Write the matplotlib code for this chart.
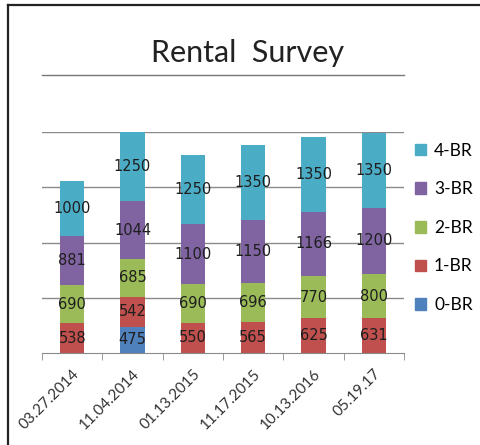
import matplotlib.pyplot as plt
import numpy as np
from matplotlib.lines import Line2D
from matplotlib.patches import Patch

dates = ['03.27.2014', '11.04.2014', '01.13.2015', '11.17.2015', '10.13.2016', '05.19.17']
br0 = [0, 475, 0, 0, 0, 0]
br1 = [538, 542, 550, 565, 625, 631]
br2 = [690, 685, 690, 696, 770, 800]
br3 = [881, 1044, 1100, 1150, 1166, 1200]
br4 = [1000, 1250, 1250, 1350, 1350, 1350]

names = ['0-BR', '1-BR', '2-BR', '3-BR', '4-BR']
colors = ['#4f81bd', '#c0504d', '#9bbb59', '#8064a2', '#4bacc6']

fig = plt.figure(figsize=(4.8, 4.45), dpi=100)
ax = fig.add_axes([0.0875, 0.2067, 0.7542, 0.4967])

x = np.arange(len(dates))
bottom = np.zeros(len(dates))
handles = []
for vals, name, c in zip([br0, br1, br2, br3, br4], names, colors):
    vals = np.array(vals, dtype=float)
    ax.bar(x, vals, 0.4, bottom=bottom, color=c, zorder=2)
    for xi, v, b in zip(x, vals, bottom):
        if v > 0:
            ax.text(xi, b + v / 2, str(int(v)), ha='center', va='center',
                    fontsize=10.5, color='#1e1e1e', zorder=3)
    bottom += vals
    handles.append(Patch(color=c, label=name))

ax.set_xlim(-0.5, len(dates) - 0.5)
ax.set_ylim(0, 4000)
ax.set_yticks([1000, 2000, 3000, 4000])
ax.yaxis.grid(True, color='#8a8a8a', linewidth=1.0, zorder=0)
ax.tick_params(axis='y', left=False, labelleft=False)

ax.set_xticks(x)
ax.set_xticklabels(dates, rotation=45, ha='right', rotation_mode='anchor',
                   fontsize=11, color='#333333', family='Lato')
ax.set_xticks(np.arange(-0.5, len(dates)), minor=True)
ax.tick_params(axis='x', which='major', length=0, pad=10)
ax.tick_params(axis='x', which='minor', length=5, color='#8a8a8a', direction='out')

for s in ['top', 'left', 'right']:
    ax.spines[s].set_visible(False)
ax.spines['bottom'].set_color('#8a8a8a')

ax.legend(handles=handles[::-1], loc='center left', bbox_to_anchor=(0.832, 0.488),
          bbox_transform=fig.transFigure, frameon=False, handlelength=0.65,
          handleheight=0.65, handletextpad=0.45, labelspacing=1.3,
          prop={'family': 'Lato', 'size': 12.5})

fig.text(0.515, 0.882, 'Rental  Survey', ha='center', va='center',
         fontsize=22, family='Lato', color='#222222')
fig.add_artist(Line2D([0.0875, 0.842], [0.831, 0.831], color='#777777', linewidth=1.0))

# outer frame (top and left edges)
fig.add_artist(Line2D([8 / 480, 1.0], [1 - 5 / 445, 1 - 5 / 445], color='#222222', linewidth=1.6))
fig.add_artist(Line2D([8 / 480, 8 / 480], [0.0, 1 - 5 / 445], color='#222222', linewidth=1.6))

fig.savefig('out.png', dpi=100)
